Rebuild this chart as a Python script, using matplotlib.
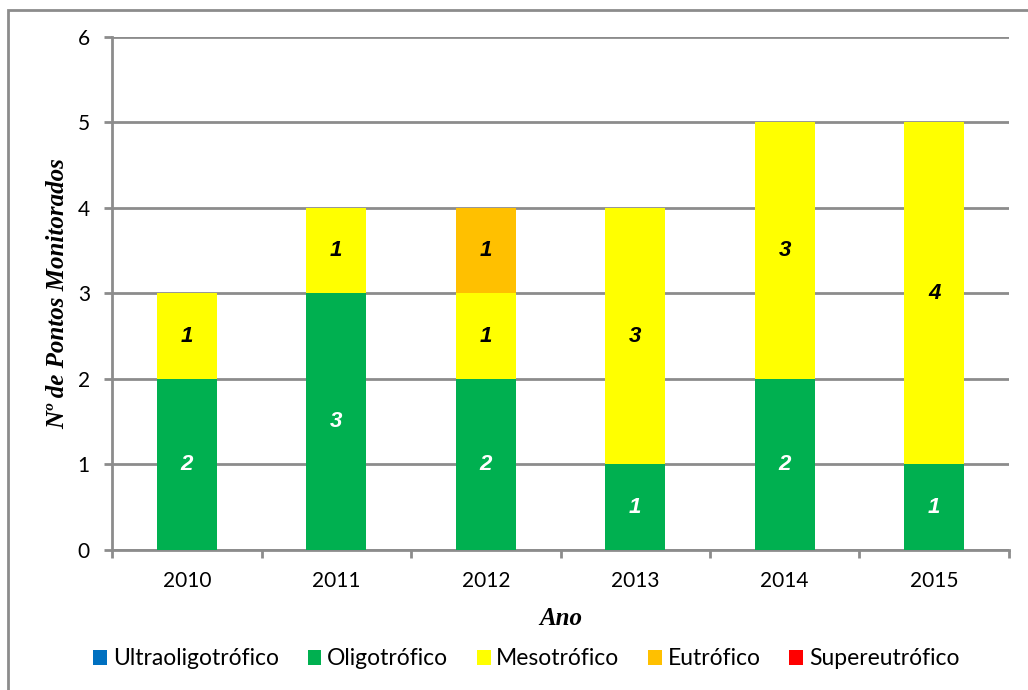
import matplotlib
matplotlib.use("Agg")
import matplotlib.pyplot as plt
from matplotlib.patches import Rectangle
import numpy as np

anos = ["2010", "2011", "2012", "2013", "2014", "2015"]
classes = ["Ultraoligotrófico", "Oligotrófico", "Mesotrófico", "Eutrófico", "Supereutrófico"]
ultraoligo = [0, 0, 0, 0, 0, 0]
oligo = [2, 3, 2, 1, 2, 1]
meso = [1, 1, 1, 3, 3, 4]
eutro = [0, 0, 1, 0, 0, 0]
supereutro = [0, 0, 0, 0, 0, 0]
series = [ultraoligo, oligo, meso, eutro, supereutro]
cores = ["#0070C0", "#00B050", "#FFFF00", "#FFC000", "#FF0000"]
cor_texto = ["white", "white", "black", "black", "white"]

grid_col = "#8c8c8c"

fig = plt.figure(figsize=(10.28, 6.9), dpi=100)
ax = fig.add_axes([0.109, 0.203, 0.8725, 0.7435])

# outer chart border
fig.patches.append(Rectangle((8 / 1028, -0.05), 1.1, 1 - 10 / 690 + 0.05,
                             transform=fig.transFigure, fill=False,
                             edgecolor=grid_col, lw=2, zorder=0))

x = np.arange(len(anos))
base = np.zeros(len(anos))
for nome, vals, cor, tc in zip(classes, series, cores, cor_texto):
    vals = np.array(vals, dtype=float)
    bars = ax.bar(x, vals, 0.4, bottom=base, color=cor, label=nome, zorder=3)
    for xi, b, v in zip(x, base, vals):
        if v > 0:
            ax.text(xi, b + v / 2, f"{int(v)}", ha="center", va="center",
                    color=tc, fontsize=16, fontweight="bold", style="italic",
                    family="Liberation Sans", zorder=4)
    base += vals

ax.set_xlim(-0.5, len(anos) - 0.5)
ax.set_ylim(0, 6)
ax.set_yticks(range(0, 7))
ax.set_xticks(x)
ax.set_xticklabels(anos)
ax.set_xticks(np.arange(-0.5, len(anos)), minor=True)
ax.tick_params(axis="x", which="major", length=0, pad=15, labelsize=15)
ax.tick_params(axis="x", which="minor", length=6, width=2, color=grid_col)
ax.tick_params(axis="y", length=6, width=2, color=grid_col, pad=10, labelsize=15)
for lbl in ax.get_xticklabels() + ax.get_yticklabels():
    lbl.set_family("Lato")

ax.grid(axis="y", color=grid_col, lw=2, zorder=0)
for s in ["top", "right"]:
    ax.spines[s].set_visible(False)
for s in ["left", "bottom"]:
    ax.spines[s].set_color(grid_col)
    ax.spines[s].set_linewidth(2)

ax.set_ylabel("Nº de Pontos Monitorados", fontsize=18, fontweight="bold",
              style="italic", family="Liberation Serif", labelpad=6)
ax.set_xlabel("Ano", fontsize=18, fontweight="bold", style="italic",
              family="Liberation Serif", labelpad=12)

leg = fig.legend(loc="center", bbox_to_anchor=(0.512, 0.045), ncol=5, frameon=False,
                 handlelength=0.6, handleheight=0.6, handletextpad=0.25,
                 columnspacing=1.25, prop={"family": "Lato", "size": 16.5})

fig.savefig("out.png", dpi=100)
